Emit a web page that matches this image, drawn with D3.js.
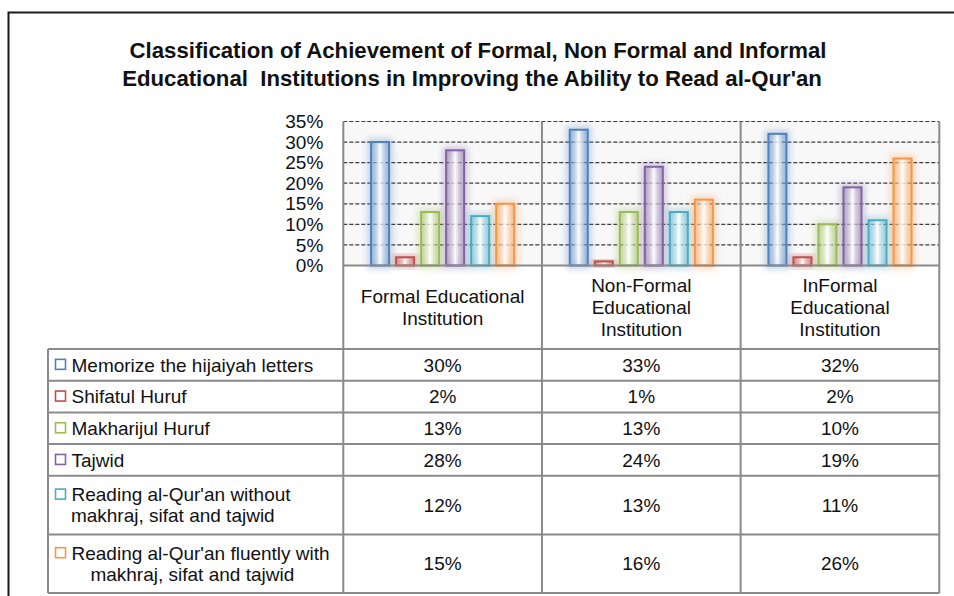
<!DOCTYPE html>
<html>
<head>
<meta charset="utf-8">
<script src="https://cdn.jsdelivr.net/npm/d3@7"></script>
<style>
  body { margin: 0; background: #fff; }
  text { font-family: "Liberation Sans", Arial, sans-serif; fill: #111; }
</style>
</head>
<body>
<svg id="chart" width="954" height="596"></svg>
<script>
// categories (columns of the data table)
const categories = ["Formal Educational Institution", "Non-Formal Educational Institution", "InFormal Educational Institution"];
const categoryLines = [["Formal Educational", "Institution"], ["Non-Formal", "Educational", "Institution"], ["InFormal", "Educational", "Institution"]];

// series
const seriesNames = ["Memorize the hijaiyah letters", "Shifatul Huruf", "Makharijul Huruf", "Tajwid",
  "Reading al-Qur'an without makhraj, sifat and tajwid", "Reading al-Qur'an fluently with makhraj, sifat and tajwid"];
const seriesLines = [["Memorize the hijaiyah letters"], ["Shifatul Huruf"], ["Makharijul Huruf"], ["Tajwid"],
  ["Reading al-Qur'an without", "makhraj, sifat and tajwid"], ["Reading al-Qur'an fluently with", "makhraj, sifat and tajwid"]];
const seriesColors = ["#4f81bd", "#c0504d", "#9bbb59", "#8064a2", "#4bacc6", "#f79646"];

// values in percent, one per category
const memorize = [30, 33, 32];
const shifatul = [2, 1, 2];
const makharijul = [13, 13, 10];
const tajwid = [28, 24, 19];
const readingWithout = [12, 13, 11];
const readingFluently = [15, 16, 26];
const seriesValues = [memorize, shifatul, makharijul, tajwid, readingWithout, readingFluently];

const yTicks = [0, 5, 10, 15, 20, 25, 30, 35];
const titleLines = ["Classification of Achievement of Formal, Non Formal and Informal",
  "Educational  Institutions in Improving the Ability to Read al-Qur'an"];

const svg = d3.select("#chart");
const plot = {left: 343.3, right: 939.3, top: 121.5, bottom: 265.5};
const tableLeft = 48;
const tableTop = 349;
const gridColor = "#8a8a8a";

// outer chart border (runs off the right/bottom of the picture)
svg.append("rect")
  .attr("x", 8.5).attr("y", 12.5)
  .attr("width", 960).attr("height", 600)
  .attr("fill", "none").attr("stroke", "#1a1a1a").attr("stroke-width", 2);

// title
svg.selectAll(".title")
  .data(titleLines)
  .enter().append("text")
  .attr("class", "title")
  .attr("x", (d, i) => i === 0 ? 478 : 472)
  .attr("y", (d, i) => 58 + i * 28)
  .attr("text-anchor", "middle")
  .style("font-size", "22.2px")
  .style("font-weight", "bold")
  .style("white-space", "pre")
  .text(d => d);

const x = d3.scaleBand()
  .domain(categories)
  .range([plot.left, plot.right]);

const xInner = d3.scaleBand()
  .domain(seriesNames)
  .range([0, x.bandwidth()])
  .paddingInner(0.28)
  .paddingOuter(1.11);

const y = d3.scaleLinear()
  .domain([0, 35])
  .range([plot.bottom, plot.top]);

const defs = svg.append("defs");
defs.append("filter")
  .attr("id", "glow")
  .attr("x", "-50%").attr("y", "-50%").attr("width", "200%").attr("height", "200%")
  .append("feGaussianBlur").attr("stdDeviation", 3);

seriesColors.forEach((c, i) => {
  const grad = defs.append("linearGradient").attr("id", "fill" + i);
  grad.append("stop").attr("offset", "0%").attr("stop-color", c).attr("stop-opacity", 0.35);
  grad.append("stop").attr("offset", "50%").attr("stop-color", "#fff").attr("stop-opacity", 0.9);
  grad.append("stop").attr("offset", "100%").attr("stop-color", c).attr("stop-opacity", 0.35);
});

// plot background
svg.append("rect")
  .attr("x", plot.left).attr("y", plot.top)
  .attr("width", plot.right - plot.left).attr("height", plot.bottom - plot.top)
  .attr("fill", "#f8f8f8");

// dashed gridlines
svg.append("g")
  .selectAll("line")
  .data(yTicks.filter(t => t > 0))
  .enter().append("line")
  .attr("x1", plot.left).attr("x2", plot.right)
  .attr("y1", d => y(d)).attr("y2", d => y(d))
  .attr("stroke", "#3c3c3c")
  .attr("stroke-width", 1.2)
  .attr("stroke-dasharray", "4,2");

// y axis with percent labels
const yAxis = svg.append("g")
  .attr("transform", `translate(${plot.left},0)`)
  .call(d3.axisLeft(y).tickValues(yTicks).tickSize(0).tickPadding(20).tickFormat(d => d + "%"));
yAxis.select(".domain").remove();
yAxis.selectAll("text")
  .style("font-size", "19px")
  .style("font-family", "'Liberation Sans', Arial, sans-serif")
  .attr("fill", "#111");

// bars
const rowData = [];
seriesValues.forEach((vals, s) => {
  vals.forEach((v, c) => rowData.push({s: s, c: c, v: v}));
});

const bars = svg.append("g");
bars.selectAll(".bar-glow")
  .data(rowData)
  .enter().append("rect")
  .attr("class", "bar-glow")
  .attr("x", d => x(categories[d.c]) + xInner(seriesNames[d.s]))
  .attr("y", d => y(d.v))
  .attr("width", xInner.bandwidth())
  .attr("height", d => y(0) - y(d.v))
  .attr("fill", "none")
  .attr("stroke", d => seriesColors[d.s])
  .attr("stroke-width", 7)
  .attr("stroke-opacity", 0.35)
  .attr("filter", "url(#glow)");

bars.selectAll(".bar")
  .data(rowData)
  .enter().append("rect")
  .attr("class", "bar")
  .attr("x", d => x(categories[d.c]) + xInner(seriesNames[d.s]))
  .attr("y", d => y(d.v))
  .attr("width", xInner.bandwidth())
  .attr("height", d => y(0) - y(d.v))
  .attr("fill", d => `url(#fill${d.s})`)
  .attr("stroke", d => seriesColors[d.s])
  .attr("stroke-width", 2);

// data table rows
const rowHeights = seriesLines.map(l => l.length > 1 ? 58.6 : 31.7);
const rowTops = [];
let acc = tableTop;
rowHeights.forEach(h => { rowTops.push(acc); acc += h; });
const tableBottom = acc;

const grid = svg.append("g")
  .attr("stroke", gridColor)
  .attr("stroke-width", 2);

// vertical lines: category separators through plot and table
const vLines = [plot.left, ...categories.map(c => x(c) + x.bandwidth())];
grid.selectAll(".vline")
  .data(vLines)
  .enter().append("line")
  .attr("x1", d => d).attr("x2", d => d)
  .attr("y1", plot.top).attr("y2", tableBottom);

grid.append("line")
  .attr("x1", tableLeft).attr("x2", tableLeft)
  .attr("y1", tableTop).attr("y2", tableBottom);

grid.append("line")
  .attr("x1", plot.left).attr("x2", plot.right)
  .attr("y1", plot.bottom).attr("y2", plot.bottom);

grid.selectAll(".hline")
  .data([...rowTops, tableBottom])
  .enter().append("line")
  .attr("x1", tableLeft).attr("x2", plot.right)
  .attr("y1", d => d).attr("y2", d => d);

// category header labels
const header = svg.append("g");
categoryLines.forEach((lines, c) => {
  const cy = (plot.bottom + tableTop) / 2;
  header.append("g")
    .selectAll("text")
    .data(lines)
    .enter().append("text")
    .attr("x", x(categories[c]) + x.bandwidth() / 2)
    .attr("y", (d, i) => cy + (i - (lines.length - 1) / 2) * 22)
    .attr("dy", "0.35em")
    .attr("text-anchor", "middle")
    .style("font-size", "19px")
    .text(d => d);
});

// legend cells
const legend = svg.append("g");
seriesLines.forEach((lines, s) => {
  const top = rowTops[s];
  const cy = top + rowHeights[s] / 2;
  const lineY = i => cy + (i - (lines.length - 1) / 2) * 21;
  legend.append("rect")
    .attr("x", 55.5).attr("y", lineY(0) - 5.5)
    .attr("width", 10).attr("height", 10)
    .attr("fill", "#fff")
    .attr("stroke", seriesColors[s])
    .attr("stroke-width", 1.6);
  const first = legend.append("text")
    .attr("x", 71.5).attr("y", lineY(0)).attr("dy", "0.35em")
    .style("font-size", "19px")
    .text(lines[0]);
  if (lines.length > 1) {
    const mid = (55 + 71.5 + first.node().getComputedTextLength()) / 2;
    legend.append("text")
      .attr("x", mid).attr("y", lineY(1)).attr("dy", "0.35em")
      .attr("text-anchor", "middle")
      .style("font-size", "19px")
      .text(lines[1]);
  }
});

// value cells
const cells = svg.append("g");
cells.selectAll("text")
  .data(rowData)
  .enter().append("text")
  .attr("x", d => x(categories[d.c]) + x.bandwidth() / 2)
  .attr("y", d => rowTops[d.s] + rowHeights[d.s] / 2)
  .attr("dy", "0.35em")
  .attr("text-anchor", "middle")
  .style("font-size", "19px")
  .text(d => d.v + "%");
</script>
</body>
</html>
